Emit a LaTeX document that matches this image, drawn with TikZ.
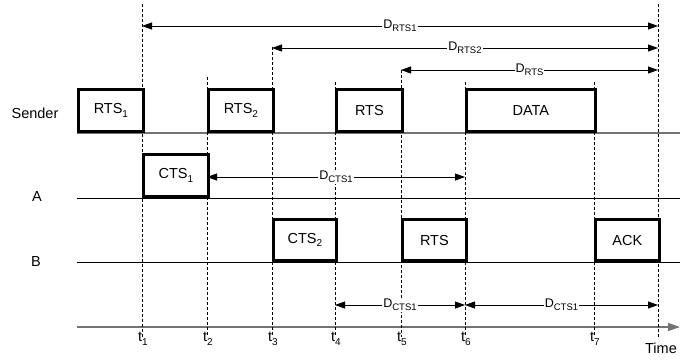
\documentclass[tikz,border=0pt]{standalone}
\usepackage{fontspec}
\setmainfont{Liberation Sans}
\usetikzlibrary{arrows.meta}
\newcommand{\dsub}[1]{\raisebox{-0.4ex}{\fontsize{9.5}{10}\selectfont #1}}
\newcommand{\bsub}[1]{\raisebox{-0.45ex}{\fontsize{10}{11}\selectfont #1}}
\tikzset{
  pkt/.style={draw=black, line width=2.8pt, inner sep=0pt, anchor=south west,
    font=\fontsize{14.5}{16}\selectfont},
  lane/.style={line width=0.8pt},
  lanegray/.style={line width=1.2pt, draw=black!55},
  tick/.style={densely dashed, line width=0.8pt},
  dim/.style={line width=0.8pt, {Triangle[length=10pt,width=7pt]}-{Triangle[length=10pt,width=7pt]}},
  dlab/.style={fill=white, inner sep=1pt, font=\fontsize{12.5}{14}\selectfont},
  txt/.style={font=\fontsize{14.5}{16}\selectfont, inner sep=0pt},
}
\begin{document}
\begin{tikzpicture}[x=1pt,y=-1pt]
\useasboundingbox (0,0) rectangle (694,360);
% time coordinates
\coordinate (t1a) at (142,4);   \coordinate (t1b) at (142,337);
\coordinate (t2a) at (207,77);  \coordinate (t2b) at (207,337);
\coordinate (t3a) at (272,47);  \coordinate (t3b) at (272,337);
\coordinate (t4a) at (335,82);  \coordinate (t4b) at (335,337);
\coordinate (t5a) at (401,70);  \coordinate (t5b) at (401,337);
\coordinate (t6a) at (465,82);  \coordinate (t6b) at (465,337);
\coordinate (t7a) at (594,82);  \coordinate (t7b) at (594,337);
\coordinate (t8a) at (658,4);   \coordinate (t8b) at (658,337);
% lanes
\coordinate (sL) at (77,133); \coordinate (sR) at (680,133);
\coordinate (aL) at (77,198); \coordinate (aR) at (680,198);
\coordinate (bL) at (77,262); \coordinate (bR) at (680,262);
\coordinate (xL) at (77,327); \coordinate (xR) at (680,327);
\draw[lanegray] (sL) -- (sR);
\draw[lane] (aL) -- (aR);
\draw[lane] (bL) -- (bR);
\draw[lanegray, -{Triangle[length=12pt,width=8pt]}] (xL) -- (xR);
% dashed time lines
\foreach \i in {1,...,8} \draw[tick] (t\i a) -- (t\i b);
% labels
\node[txt] (lsender) at (35,113) {Sender};
\node[txt] (la) at (37,197) {A};
\node[txt] (lb) at (36,262) {B};
% boxes
\node[pkt, minimum width=65pt, minimum height=42pt] (rts1) at (77,133) {RTS\bsub{1}};
\node[pkt, minimum width=65pt, minimum height=42pt] (rts2) at (207,133) {RTS\bsub{2}};
\node[pkt, minimum width=66pt, minimum height=42pt] (rts3) at (335,133) {RTS};
\node[pkt, minimum width=129pt, minimum height=42pt] (data) at (465,133) {DATA};
\node[pkt, minimum width=65pt, minimum height=42pt] (cts1) at (142,198) {CTS\bsub{1}};
\node[pkt, minimum width=63pt, minimum height=41pt] (cts2) at (272,262) {CTS\bsub{2}};
\node[pkt, minimum width=64pt, minimum height=41pt] (rtsb) at (401,262) {RTS};
\node[pkt, minimum width=64pt, minimum height=41pt] (ack) at (594,262) {ACK};
% dimension arrows
\coordinate (d1a) at (142,26); \coordinate (d1b) at (658,26);
\coordinate (d2a) at (272,48); \coordinate (d2b) at (658,48);
\coordinate (d3a) at (401,70); \coordinate (d3b) at (658,70);
\coordinate (d4a) at (207,177); \coordinate (d4b) at (465,177);
\coordinate (d5a) at (335,305); \coordinate (d5b) at (465,305);
\coordinate (d6a) at (465,305); \coordinate (d6b) at (658,305);
\draw[dim] (d1a) -- node[dlab] (l1) {D\dsub{RTS1}} (d1b);
\draw[dim] (d2a) -- node[dlab] (l2) {D\dsub{RTS2}} (d2b);
\draw[dim] (d3a) -- node[dlab] (l3) {D\dsub{RTS}} (d3b);
\draw[dim] (d4a) -- node[dlab] (l4) {D\dsub{CTS1}} (d4b);
\draw[dim] (d5a) -- node[dlab] (l5) {D\dsub{CTS1}} (d5b);
\draw[dim] (d6a) -- node[dlab] (l6) {D\dsub{CTS1}} (d6b);
% time labels
\node[txt] (n1) at (143,339) {t\bsub{1}};
\node[txt] (n2) at (208,339) {t\bsub{2}};
\node[txt] (n3) at (273,339) {t\bsub{3}};
\node[txt] (n4) at (336,339) {t\bsub{4}};
\node[txt] (n5) at (402,339) {t\bsub{5}};
\node[txt] (n6) at (466,339) {t\bsub{6}};
\node[txt] (n7) at (595,339) {t\bsub{7}};
\node[txt] (ntime) at (661,348) {Time};
\end{tikzpicture}
\end{document}
